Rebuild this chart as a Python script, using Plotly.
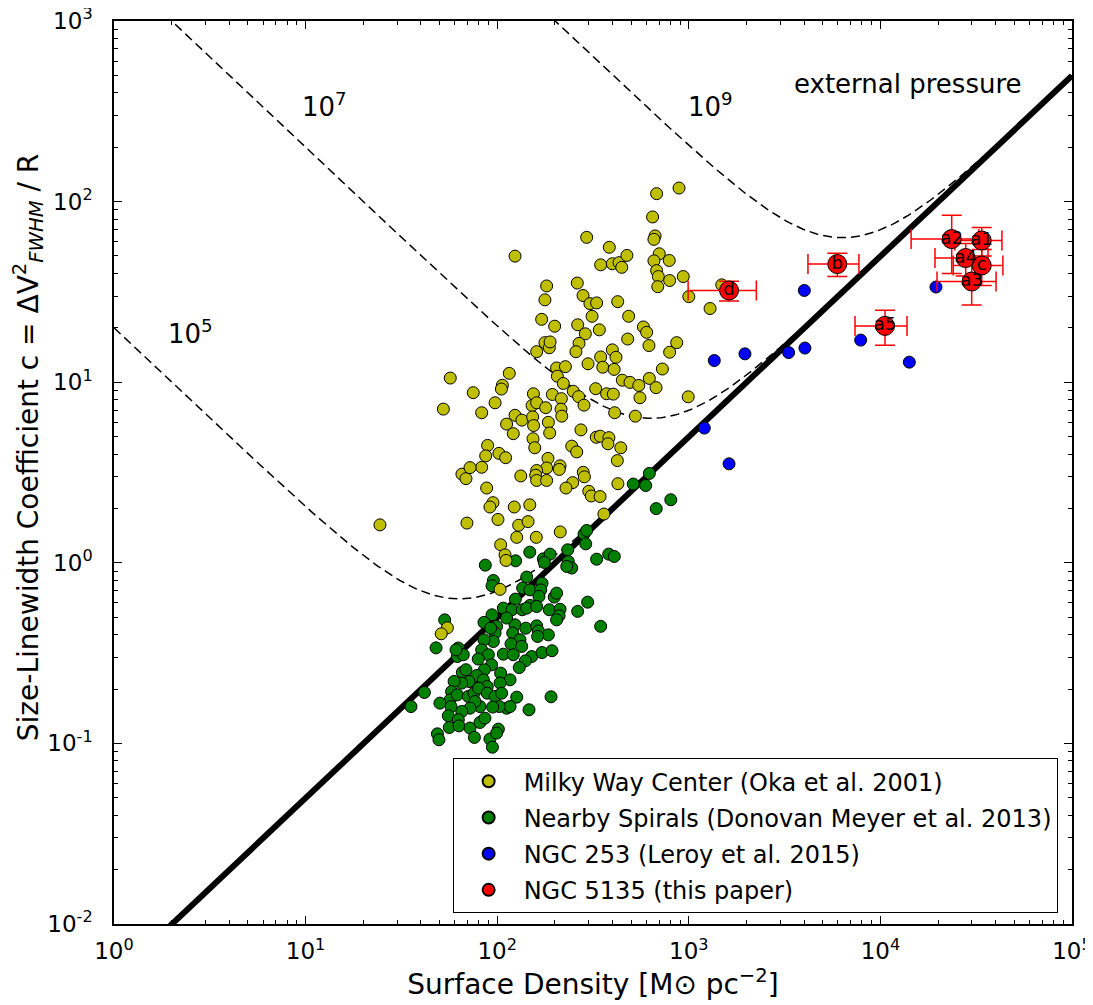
import numpy as np
import plotly.graph_objects as go

# ---------------- data (log10 values) ----------------
mw_log_sigma = [2.832, 2.949, 2.811, 2.824, 2.818, 2.467, 2.093, 2.585, 2.540, 2.601, 2.636, 2.677, 2.650, 2.846,
                2.898, 2.818, 2.832, 2.841, 2.838, 2.900, 2.971, 3.000, 2.258, 2.249, 2.418, 2.448, 2.484, 2.519,
                2.629, 2.232, 2.300, 2.495, 2.533, 2.686, 2.420, 2.460, 2.427, 2.411, 2.206, 2.249, 2.272, 2.276,
                2.763, 2.780, 2.681, 2.792, 2.937, 2.900, 2.862, 2.601, 2.620, 2.540, 2.551, 2.610, 2.474, 2.310,
                2.356, 2.314, 2.345, 2.653, 2.693, 2.739, 2.794, 2.829, 2.745, 2.997, 2.721, 2.613, 2.514, 2.571,
                2.606, 2.397, 2.425, 2.453, 2.288, 2.335, 2.189, 2.182, 2.206, 2.253, 2.333, 2.337, 2.093, 2.129,
                2.185, 2.190, 2.049, 2.084, 2.267, 2.274, 2.187, 2.196, 2.437, 2.517, 2.538, 2.583, 2.578, 2.645,
                2.627, 2.389, 2.415, 2.265, 2.328, 2.324, 2.258, 2.206, 2.201, 2.206, 2.258, 2.449, 2.455, 2.394,
                2.359, 2.478, 2.491, 2.537, 2.630, 2.123, 2.063, 2.027, 2.022, 1.989, 1.919, 1.755, 1.875, 1.719,
                1.950, 1.940, 2.009, 2.044, 1.919, 1.816, 1.837, 1.858, 1.945, 1.978, 1.962, 2.089, 2.170, 2.004,
                1.842, 2.112, 2.161, 2.102, 2.204, 2.329, 2.557, 2.018, 2.041, 2.046, 2.015, 1.388, 1.740, 1.708,
                3.111, 3.172]
mw_log_c = [2.044, 2.075, 1.915, 1.810, 1.791, 1.802, 1.698, 1.747, 1.650, 1.656, 1.662, 1.702, 1.636, 1.711,
            1.674, 1.672, 1.618, 1.585, 1.529, 1.563, 1.585, 1.474, 1.533, 1.456, 1.549, 1.480, 1.435, 1.439,
            1.446, 1.348, 1.310, 1.365, 1.290, 1.365, 1.318, 1.268, 1.215, 1.169, 1.169, 1.219, 1.191, 1.223,
            1.306, 1.276, 1.239, 1.203, 1.219, 1.166, 1.073, 1.179, 1.138, 1.140, 1.083, 1.071, 1.102, 1.079,
            1.086, 1.033, 0.993, 1.011, 0.999, 0.982, 1.021, 0.970, 0.914, 0.919, 0.812, 0.831, 0.964, 0.936,
            0.934, 0.950, 0.920, 0.873, 0.932, 0.909, 0.936, 0.871, 0.886, 0.859, 0.851, 0.812, 0.817, 0.790,
            0.808, 0.760, 0.768, 0.715, 0.778, 0.719, 0.687, 0.637, 0.736, 0.695, 0.701, 0.693, 0.659, 0.637,
            0.566, 0.646, 0.614, 0.578, 0.537, 0.517, 0.525, 0.511, 0.485, 0.456, 0.456, 0.501, 0.476, 0.444,
            0.414, 0.396, 0.370, 0.367, 0.438, 0.481, 1.049, 0.983, 0.962, 0.886, 0.831, 1.023, 0.942, 0.851,
            0.650, 0.592, 0.606, 0.582, 0.529, 0.491, 0.466, 0.527, 0.414, 0.333, 0.309, 0.309, 0.321, 0.240,
            0.220, 0.208, 0.228, 0.141, 0.141, 0.171, 0.270, 0.100, 0.044, 0.013, -0.147, 0.210, -0.360, -0.393,
            1.408, 1.539]

sp_log_sigma = [1.938, 1.980, 1.973, 2.096, 2.170, 2.241, 2.276, 2.246, 2.368, 2.453, 2.462, 2.467, 2.371, 2.389,
                2.363, 2.519, 2.582, 2.611, 2.154, 2.133, 2.171, 2.234, 2.227, 2.218, 2.298, 2.310, 2.095, 2.032,
                2.077, 1.973, 1.931, 2.131, 2.171, 2.154, 2.206, 2.272, 2.328, 2.323, 2.310, 2.420, 2.472, 2.540,
                2.093, 2.049, 1.997, 1.989, 1.966, 2.149, 2.206, 2.215, 2.267, 2.211, 2.081, 2.119, 2.072, 2.128,
                1.980, 1.931, 1.919, 1.954, 1.901, 1.797, 1.792, 1.823, 1.785, 2.032, 2.084, 2.180, 2.234, 2.286,
                2.147, 2.115, 2.067, 2.018, 2.015, 1.971, 1.933, 1.893, 1.928, 1.948, 1.893, 1.853, 1.818, 1.837,
                1.815, 1.775, 1.762, 1.754, 1.792, 1.849, 1.879, 1.903, 1.948, 1.989, 2.023, 2.102, 2.049, 2.067,
                2.011, 1.976, 1.910, 1.884, 1.858, 1.815, 1.759, 1.745, 1.701, 1.797, 1.750, 1.801, 1.858, 1.910,
                1.936, 1.881, 1.688, 1.696, 1.962, 1.975, 2.006, 1.997, 2.281, 2.166, 1.681, 1.620, 1.550, 1.726,
                2.710, 2.794, 2.775, 2.830, 2.906]
sp_log_c = [-0.013, -0.098, -0.127, 0.011, 0.059, 0.022, 0.048, 0.002, 0.072, 0.159, 0.105, 0.179, 0.007, -0.029,
            -0.020, 0.020, 0.048, 0.035, -0.079, -0.140, -0.150, -0.113, -0.150, -0.186, -0.190, -0.168, -0.201,
            -0.251, -0.260, -0.288, -0.330, -0.260, -0.236, -0.251, -0.242, -0.260, -0.257, -0.293, -0.316,
            -0.269, -0.218, -0.352, -0.343, -0.306, -0.352, -0.389, -0.362, -0.362, -0.349, -0.377, -0.399,
            -0.408, -0.389, -0.426, -0.449, -0.463, -0.436, -0.426, -0.482, -0.509, -0.533, -0.472, -0.519,
            -0.509, -0.482, -0.506, -0.509, -0.519, -0.497, -0.487, -0.543, -0.580, -0.648, -0.611, -0.666,
            -0.565, -0.592, -0.624, -0.648, -0.685, -0.694, -0.657, -0.607, -0.592, -0.666, -0.657, -0.713,
            -0.759, -0.731, -0.740, -0.722, -0.694, -0.722, -0.740, -0.722, -0.744, -0.805, -0.796, -0.796,
            -0.799, -0.796, -0.768, -0.805, -0.823, -0.796, -0.847, -0.777, -0.869, -0.912, -0.903, -0.915,
            -0.884, -0.860, -0.967, -0.947, -0.980, -0.976, -1.021, -0.921, -0.943, -0.742, -0.814, -0.471,
            -0.718, -0.796, -0.316, 0.436, 0.495, 0.428, 0.300, 0.349]

n253_log_sigma = [3.603, 3.133, 3.293, 3.521, 3.606, 3.897, 4.151, 4.290, 3.081, 3.210]
n253_log_c = [1.508, 1.120, 1.157, 1.164, 1.189, 1.233, 1.111, 1.527, 0.746, 0.548]

n5135_labels = ["d", "b", "a5", "a2", "a1", "a4", "c", "a3"]
n5135_sigma = [1622, 5957, 10570, 23560, 33790, 27870, 33790, 29950]
n5135_sigma_err = [630, 1770, 3200, 9100, 9300, 8600, 9800, 10200]
n5135_c = [32.2, 45.1, 20.5, 62.0, 60.9, 48.7, 44.3, 36.1]
n5135_c_err = [4.0, 6.6, 4.5, 22.0, 11.0, 10.0, 10.0, 9.3]

# model parameters: c = A*Sigma + B*P/Sigma
virial_coef = 0.00498
pressure_coef = 2.0e-4
pressures = [1e5, 1e7, 1e9]
pressure_labels = ["10<sup>5</sup>", "10<sup>7</sup>", "10<sup>9</sup>"]
pressure_label_pos = [(10**0.397, 10**1.279), (10**1.101, 10**2.536), (10**3.111, 10**2.536)]

tick_vals = [1, 10, 100, 1000, 10000, 100000]
x_tick_text = ["10<sup>0</sup>", "10<sup>1</sup>", "10<sup>2</sup>", "10<sup>3</sup>", "10<sup>4</sup>", "10<sup>5</sup>"]
y_tick_vals = [0.01, 0.1, 1, 10, 100, 1000]
y_tick_text = ["10<sup>-2</sup>", "10<sup>-1</sup>", "10<sup>0</sup>", "10<sup>1</sup>", "10<sup>2</sup>", "10<sup>3</sup>"]

FONT = "DejaVu Sans"
fig = go.Figure()

# model curves
sig = np.logspace(0, 5, 400)
for P in pressures:
    fig.add_trace(go.Scatter(x=sig, y=virial_coef * sig + pressure_coef * P / sig, mode="lines",
                             line=dict(color="black", width=1.5, dash="9px,5px"),
                             showlegend=False, hoverinfo="skip"))
fig.add_trace(go.Scatter(x=sig, y=virial_coef * sig, mode="lines",
                         line=dict(color="black", width=6), showlegend=False, hoverinfo="skip"))

mk = dict(line=dict(color="black", width=1))
fig.add_trace(go.Scatter(x=np.power(10.0, sp_log_sigma), y=np.power(10.0, sp_log_c), mode="markers",
                         name="Nearby Spirals (Donovan Meyer et al. 2013)", legendgroup="g2", legendrank=2,
                         marker=dict(color="#008000", size=12, **mk)))
fig.add_trace(go.Scatter(x=np.power(10.0, mw_log_sigma), y=np.power(10.0, mw_log_c), mode="markers",
                         name="Milky Way Center (Oka et al. 2001)", legendgroup="g1", legendrank=1,
                         marker=dict(color="#bfbf00", size=12, **mk)))
fig.add_trace(go.Scatter(x=np.power(10.0, n253_log_sigma), y=np.power(10.0, n253_log_c), mode="markers",
                         name="NGC 253 (Leroy et al. 2015)", legendgroup="g3", legendrank=3,
                         marker=dict(color="#0000ff", size=12, **mk)))
fig.add_trace(go.Scatter(x=n5135_sigma, y=n5135_c, mode="markers+text", text=n5135_labels,
                         textposition="middle center", textfont=dict(family=FONT, size=18, color="black"),
                         name="NGC 5135 (this paper)", legendgroup="g4", legendrank=4,
                         error_x=dict(type="data", array=n5135_sigma_err, color="red", thickness=1.5, width=10),
                         error_y=dict(type="data", array=n5135_c_err, color="red", thickness=1.5, width=10),
                         marker=dict(color="#ff0000", size=19, **mk)))

for lab, (px, py) in zip(pressure_labels, pressure_label_pos):
    fig.add_annotation(x=np.log10(px), y=np.log10(py), text=lab, showarrow=False,
                       font=dict(family=FONT, size=26, color="black"))
fig.add_annotation(x=4.144, y=2.652, text="external pressure", showarrow=False,
                   font=dict(family=FONT, size=26, color="black"))

# y-axis title as rotated annotation (placed like the reference)
fig.add_annotation(xref="paper", yref="paper", x=-0.0898, y=0.528, textangle=-90, showarrow=False,
                   xanchor="center", yanchor="middle",
                   text="Size-Linewidth Coefficient c = ΔV<sup>2</sup><sub><i>FWHM</i></sub> / R",
                   font=dict(family=FONT, size=28, color="black"))

minor_x = [k * 10**n for n in range(0, 5) for k in range(2, 10)]
minor_y = [k * 10.0**n for n in range(-2, 3) for k in range(2, 10)]

axis_common = dict(type="log", showgrid=False, zeroline=False, showline=True, linecolor="black", linewidth=1.5,
                   ticks="inside", ticklen=8, tickwidth=1.2, tickcolor="black", mirror="allticks",
                   ticklabeloverflow="allow",
                   tickfont=dict(family=FONT, size=23, color="black"))
fig.update_xaxes(range=[0, 5], tickvals=tick_vals, ticktext=x_tick_text,
                 minor=dict(tickvals=minor_x, ticks="inside", ticklen=4, tickcolor="black", tickwidth=1),
                 title=dict(text="Surface Density [M⊙ pc<sup>−2</sup>]", font=dict(family=FONT, size=28, color="black"),
                            standoff=8),
                 ticklabelstandoff=6, **axis_common)
fig.update_yaxes(range=[-2, 3], tickvals=y_tick_vals, ticktext=y_tick_text,
                 minor=dict(tickvals=minor_y, ticks="inside", ticklen=4, tickcolor="black", tickwidth=1),
                 ticklabelstandoff=15, **axis_common)

fig.update_layout(width=1085, height=997, margin=dict(l=106, r=21, t=13, b=81, autoexpand=False),
                  plot_bgcolor="white", paper_bgcolor="white", font=dict(family=FONT, color="black"),
                  legend=dict(x=0.985, y=0.012, xanchor="right", yanchor="bottom", bgcolor="white",
                              bordercolor="black", borderwidth=1, font=dict(family=FONT, size=24, color="black"),
                              traceorder="grouped", tracegroupgap=2, itemsizing="constant", itemwidth=60))

fig.write_html("out.html")
